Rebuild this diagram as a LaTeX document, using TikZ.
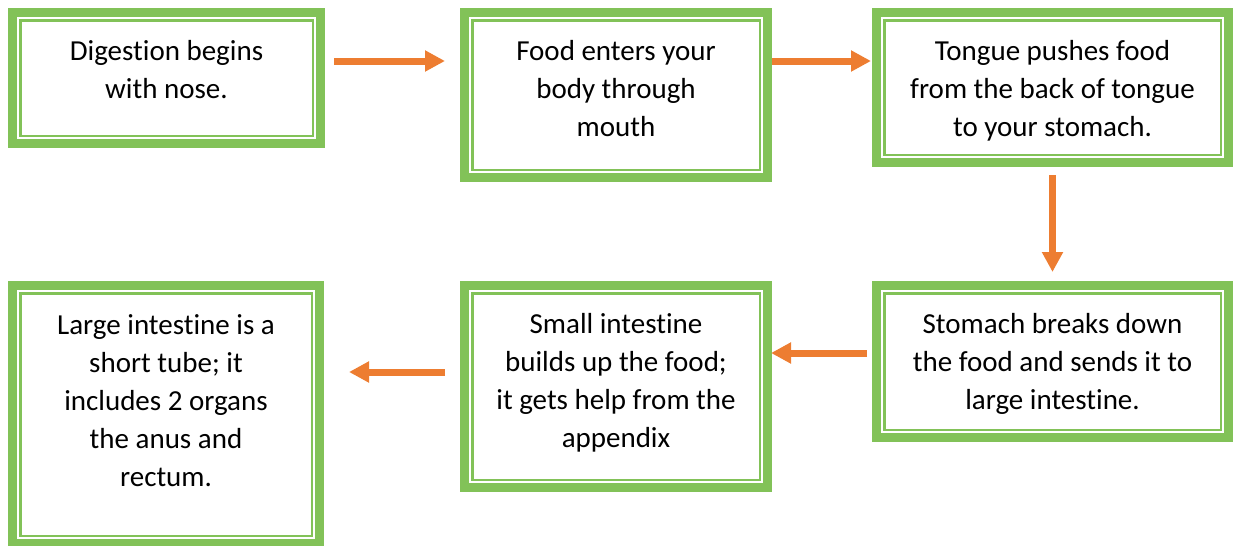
\documentclass[tikz,border=0pt]{standalone}
\usepackage{fontspec}
\setmainfont{Carlito}[Ligatures={NoCommon}]
\usetikzlibrary{arrows.meta,calc}
\definecolor{gr}{RGB}{130,194,88}
\definecolor{org}{RGB}{237,125,49}
\newcommand\boxtext[1]{\begin{tabular}[t]{@{}c@{}}#1\end{tabular}}
\begin{document}
\begin{tikzpicture}[x=1pt,y=-1pt,
  box/.style={rectangle, inner sep=0pt, outer sep=0pt, draw=none, fill=white,
    path picture={
      \fill[gr] (path picture bounding box.north west) rectangle (path picture bounding box.south east);
      \fill[white] ([shift={(9pt,-9pt)}]path picture bounding box.north west) rectangle ([shift={(-9pt,9pt)}]path picture bounding box.south east);
      \fill[gr] ([shift={(11pt,-11pt)}]path picture bounding box.north west) rectangle ([shift={(-11pt,11pt)}]path picture bounding box.south east);
      \fill[white] ([shift={(13.5pt,-13.5pt)}]path picture bounding box.north west) rectangle ([shift={(-13.5pt,13.5pt)}]path picture bounding box.south east);
    }},
  txt/.style={anchor=base, inner sep=0pt, font=\fontsize{29}{38}\selectfont, text=black},
  arr/.style={draw=org, line width=7pt, -{Triangle[length=20pt,width=20pt]}}
]
\useasboundingbox (0,0) rectangle (1235,546);

\node[box, minimum width=317pt, minimum height=140pt] (b1) at (166.5,78) {};
\node[box, minimum width=312pt, minimum height=174pt] (b2) at (616,95) {};
\node[box, minimum width=361pt, minimum height=159pt] (b3) at (1052.5,87.5) {};
\node[box, minimum width=361pt, minimum height=161pt] (b4) at (1052.5,361.5) {};
\node[box, minimum width=312pt, minimum height=211pt] (b5) at (616,386.5) {};
\node[box, minimum width=316pt, minimum height=267pt] (b6) at (166,414.5) {};

\node[txt] (t1) at (166.5,60) {\boxtext{Digestion begins\\ with nose.}};
\node[txt] (t2) at (616,60) {\boxtext{Food enters your\\ body through\\ mouth}};
\node[txt] (t3) at (1052.5,60) {\boxtext{Tongue pushes food\\ from the back of tongue\\ to your stomach.}};
\node[txt] (t4) at (1052.5,333) {\boxtext{Stomach breaks down\\ the food and sends it to\\ large intestine.}};
\node[txt] (t5) at (616,333) {\boxtext{Small intestine\\ builds up the food;\\ it gets help from the\\ appendix}};
\node[txt] (t6) at (166,334) {\boxtext{Large intestine is a\\ short tube; it\\ includes 2 organs\\ the anus and\\ rectum.}};

\coordinate (a1) at ([shift={(9pt,17pt)}]b1.east);
\draw[arr] (a1) -- ($(b2.west |- a1)+(-15pt,0pt)$);
\coordinate (a2) at ([yshift=34pt]b2.east);
\draw[arr] (a2) -- ($(b3.west |- a2)+(-1pt,0pt)$);
\draw[arr] ([yshift=-8pt]b3.south) -- ([yshift=9pt]b4.north);
\coordinate (a4) at ([shift={(-5pt,8.5pt)}]b4.west);
\draw[arr] (a4) -- ($(b5.east |- a4)+(-1pt,0pt)$);
\coordinate (a5) at ([shift={(-15pt,14.5pt)}]b5.west);
\draw[arr] (a5) -- ($(b6.east |- a5)+(25pt,0pt)$);
\end{tikzpicture}
\end{document}
